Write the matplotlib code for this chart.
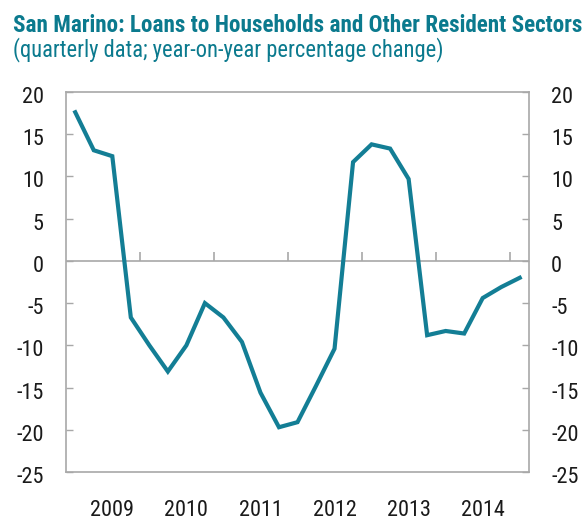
import matplotlib
matplotlib.use("Agg")
import matplotlib.pyplot as plt
from matplotlib import font_manager
from matplotlib.transforms import ScaledTranslation
import numpy as np

# Year-on-year change in loans, quarterly, 2009Q1 - 2015Q1
loan_growth = [17.6, 13.1, 12.4, -6.7, -10.0, -13.1, -10.0, -5.0, -6.7,
               -9.6, -15.6, -19.7, -19.1, -14.8, -10.4, 11.7, 13.8, 13.3,
               9.7, -8.8, -8.3, -8.6, -4.4, -3.1, -2.0]
year_labels = ["2009", "2010", "2011", "2012", "2013", "2014"]
y_ticks = [20, 15, 10, 5, 0, -5, -10, -15, -20, -25]

TEAL = "#0B7A8E"
LINE = "#137E95"
GREY = "#A8A8A8"

# prefer a narrow face if one is around
installed = {f.name for f in font_manager.fontManager.ttflist}
narrow = "Lato"
for cand in ("Liberation Sans Narrow", "Roboto Condensed", "Open Sans Condensed"):
    if cand in installed:
        narrow = cand
        break
plt.rcParams["font.family"] = [narrow, "DejaVu Sans"]

fig = plt.figure(figsize=(5.85, 5.22), dpi=100)
ax = fig.add_axes([66 / 585, 50 / 522, 463 / 585, 380 / 522])

x = np.arange(len(loan_growth))
ax.plot(x, loan_growth, color=LINE, lw=3.0, solid_joinstyle="miter", zorder=3)

ax.set_xlim(-0.5, len(loan_growth) - 0.5)
ax.set_ylim(-25, 20)

# zero line with small year separators on it
ax.axhline(0, color=GREY, lw=1.2, zorder=1)
year_edges = np.arange(3.5, len(loan_growth), 4)
ax.vlines(year_edges, 0, 1.0, color=GREY, lw=1.2, zorder=1)

# year labels sit near the third quarter of each year
ax.set_xticks(np.arange(2, len(loan_growth), 4)[:len(year_labels)], year_labels)
ax.tick_params(axis="x", length=0, pad=20, labelsize=16, labelcolor="#1a1a1a")

ax.set_yticks(y_ticks, [str(v) for v in y_ticks])
ax.tick_params(axis="y", direction="in", length=5, width=1, color=GREY,
               left=True, right=True, labelleft=True, labelright=True,
               pad=16, labelsize=16, labelcolor="#1a1a1a")
# nudge the value labels (both sides) a little below their ticks
shift = ScaledTranslation(0, -3 / 100, fig.dpi_scale_trans)
for t in ax.yaxis.get_major_ticks():
    t.label1.set_transform(t.label1.get_transform() + shift)
    t.label2.set_transform(t.label2.get_transform() + shift)

for s in ax.spines.values():
    s.set_color(GREY)
    s.set_linewidth(1.2)

# headline and subtitle, scaled to the available width
title = fig.text(13 / 585, 1 - 32 / 522,
                 "San Marino: Loans to Households and Other Resident Sectors",
                 weight="bold", color=TEAL,
                 fontsize=16, va="baseline", ha="left")
subtitle = fig.text(13 / 585, 1 - 56 / 522,
                    "(quarterly data; year-on-year percentage change)",
                    color=TEAL, fontsize=14, va="baseline", ha="left")

renderer = fig.canvas.get_renderer()
for txt, target in ((title, 569), (subtitle, 434)):
    w = txt.get_window_extent(renderer).width
    txt.set_fontsize(txt.get_fontsize() * target / w)

fig.savefig("out.png", dpi=100, facecolor="white")
